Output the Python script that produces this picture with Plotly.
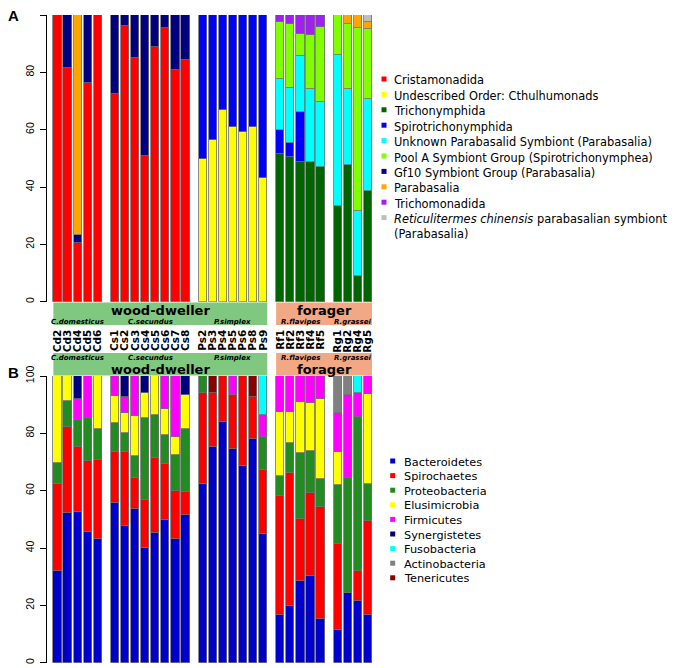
import plotly.graph_objects as go

# the page body adds an 8px margin, so the figure is drawn 8px in from the window edge
OFF = 8
WIN_W, WIN_H = 675, 668
W, H = WIN_W - OFF, WIN_H - OFF

# ---------------- data ----------------
samples = ["Cd2", "Cd3", "Cd4", "Cd5", "Cd6",
           "Cs1", "Cs2", "Cs3", "Cs4", "Cs5", "Cs6", "Cs7", "Cs8",
           "Ps2", "Ps3", "Ps4", "Ps5", "Ps6", "Ps8", "Ps9",
           "Rf1", "Rf2", "Rf3", "Rf4", "Rf5",
           "Rg1", "Rg2", "Rg4", "Rg5"]
species = ["C.domesticus", "C.secundus", "P.simplex", "R.flavipes", "R.grassei"]
species_sizes = [5, 8, 7, 5, 4]
lifestyles = ["wood-dweller", "forager"]
lifestyle_species = [[0, 1, 2], [3, 4]]

# Panel A: protist orders (percent)
protist_names = ["Cristamonadida", "Undescribed Order: Cthulhumonads", "Trichonymphida",
                 "Spirotrichonymphida", "Unknown Parabasalid Symbiont (Parabasalia)",
                 "Pool A Symbiont Group (Spirotrichonymphea)", "Gf10 Symbiont Group (Parabasalia)",
                 "Parabasalia", "Trichomonadida",
                 "<i>Reticulitermes chinensis</i> parabasalian symbiont<br>(Parabasalia)"]
protist_colors = ["#FF0000", "#FFFF00", "#006400", "#0000FF", "#00FFFF",
                  "#7FFF00", "#000080", "#FFA500", "#A020F0", "#BEBEBE"]
Z5, Z7, Z4 = [0]*5, [0]*7, [0]*4
cristamonadida = [100, 81.4, 20.6, 76.2, 100, 72.3, 96.3, 84.9, 50.8, 89.0, 95.3, 80.8, 84.3] + Z7 + Z5 + Z4
cthulhumonads = [0]*13 + [49.7, 56.4, 66.9, 60.8, 59.3, 60.8, 43.3] + Z5 + Z4
trichonymphida = [0]*13 + Z7 + [51.5, 50.6, 48.8, 48.8, 47.1] + [33.4, 47.6, 9.0, 38.7]
spirotrichonymphida = [0]*13 + [50.3, 43.6, 33.1, 39.2, 40.7, 39.2, 56.7] + [8.4, 4.6, 17.2, 0, 0] + Z4
unknown_parabasalid = [0]*13 + Z7 + [17.7, 19.5, 19.7, 25.5, 22.4] + [52.6, 26.5, 22.5, 31.9]
pool_a = [0]*13 + Z7 + [20.1, 22.0, 7.7, 18.7, 26.2] + [14.0, 22.6, 64.1, 24.5]
gf10 = [0, 18.6, 2.5, 23.8, 0, 27.7, 3.7, 15.1, 49.2, 11.0, 4.7, 19.2, 15.7] + Z7 + Z5 + Z4
parabasalia = [0, 0, 76.9, 0, 0] + [0]*8 + Z7 + Z5 + [0, 3.3, 4.4, 2.3]
trichomonadida = [0]*13 + Z7 + [2.3, 3.3, 6.6, 7.0, 4.3] + Z4
r_chinensis = [0]*13 + Z7 + Z5 + [0, 0, 0, 2.6]
protist_values = [cristamonadida, cthulhumonads, trichonymphida, spirotrichonymphida,
                  unknown_parabasalid, pool_a, gf10, parabasalia, trichomonadida, r_chinensis]

# Panel B: bacterial phyla (percent)
phylum_names = ["Bacteroidetes", "Spirochaetes", "Proteobacteria", "Elusimicrobia", "Firmicutes",
                "Synergistetes", "Fusobacteria", "Actinobacteria", "Tenericutes"]
phylum_colors = ["#0000CD", "#FF0000", "#228B22", "#FFFF00", "#FF00FF",
                 "#000080", "#00FFFF", "#808080", "#8B0000"]
bacteroidetes = [32.0, 52.3, 52.7, 45.7, 43.3, 55.8, 47.8, 53.6, 40.1, 45.1, 49.8, 43.3, 51.5,
                 62.3, 75.1, 83.8, 74.7, 68.7, 78.0, 44.9, 16.6, 19.8, 28.6, 30.2, 15.2,
                 11.4, 24.4, 21.5, 16.6]
spirochaetes = [30.3, 29.8, 22.6, 24.6, 27.4, 17.6, 25.6, 10.7, 16.6, 26.2, 19.4, 16.7, 8.2,
                31.7, 18.9, 16.2, 18.7, 31.3, 14.8, 22.2, 41.5, 46.2, 21.5, 28.9, 39.2,
                29.9, 0, 10.6, 32.8]
proteobacteria = [7.4, 9.2, 9.4, 14.9, 10.7, 10.1, 6.8, 7.8, 28.8, 15.1, 10.2, 12.4, 21.7,
                  6.0, 0, 0, 0, 0, 0, 11.7, 7.1, 10.5, 22.9, 14.7, 9.8,
                  20.7, 39.9, 53.7, 12.8]
elusimicrobia = [30.3, 8.7, 0, 0, 18.6, 9.6, 7.0, 14.1, 8.5, 13.6, 9.0, 6.2, 11.9,
                 0, 0, 0, 0, 0, 0, 0, 22.4, 10.8, 18.0, 16.9, 27.7,
                 11.4, 0, 0, 31.4]
firmicutes = [0, 0, 7.2, 14.8, 0, 6.9, 5.6, 13.8, 0, 0, 11.6, 21.4, 0,
              0, 0, 0, 6.6, 0, 0, 7.5, 12.4, 12.7, 9.0, 9.3, 8.1,
              13.8, 29.1, 8.2, 6.4]
synergistetes = [0, 0, 8.1, 0, 0, 0, 7.2, 0, 6.0, 0, 0, 0, 6.7] + Z7 + Z5 + Z4
fusobacteria = [0]*13 + [0, 0, 0, 0, 0, 0, 13.7] + Z5 + [0, 0, 6.0, 0]
actinobacteria = [0]*13 + Z7 + Z5 + [12.8, 6.6, 0, 0]
tenericutes = [0]*13 + [0, 6.0, 0, 0, 0, 7.2, 0] + Z5 + Z4
phylum_values = [bacteroidetes, spirochaetes, proteobacteria, elusimicrobia, firmicutes,
                 synergistetes, fusobacteria, actinobacteria, tenericutes]

y_ticks = [0, 20, 40, 60, 80, 100]

# ---------------- layout helpers (window pixels -> paper) ----------------
def px_x(p):
    return (p - OFF) / W

def px_y(p):
    return 1 - (p - OFF) / H

GAP = 0.7
BAR_W = 0.82
xpos = []
group_bounds = []
cur = 0.0
for gi, n in enumerate(species_sizes):
    if gi > 0:
        cur += GAP
    start = cur
    for _ in range(n):
        xpos.append(cur)
        cur += 1
    group_bounds.append((start, cur - 1))
XRANGE = [-1.04, 31.2]

fig = go.Figure()

def nz(vals):
    return [v if v > 0 else None for v in vals]

for name, col, vals in zip(protist_names, protist_colors, protist_values):
    fig.add_trace(go.Bar(x=xpos, y=nz(vals), name=name, marker_color=col,
                         marker_line=dict(color="#707070", width=0.8), width=BAR_W,
                         xaxis="x", yaxis="y", showlegend=False, hoverinfo="skip"))
for name, col, vals in zip(phylum_names, phylum_colors, phylum_values):
    fig.add_trace(go.Bar(x=xpos, y=nz(vals), name=name, marker_color=col,
                         marker_line=dict(color="#707070", width=0.8), width=BAR_W,
                         xaxis="x2", yaxis="y2", showlegend=False, hoverinfo="skip"))

dom_x = [px_x(47), px_x(372)]
yA = [px_y(301.7), px_y(15)]
yB = [px_y(662.7), px_y(376)]

axis_y_common = dict(range=[0, 100], tickvals=y_ticks, ticks="outside", ticklen=6,
                     tickwidth=1, tickcolor="black", showline=True, linecolor="black",
                     linewidth=1, showgrid=False, zeroline=False, tickangle=-90,
                     ticklabelstandoff=2, automargin=False,
                     tickfont=dict(family="Liberation Sans", size=10.5, color="black"))

fig.update_layout(
    width=W, height=H, margin=dict(l=0, r=0, t=0, b=0, autoexpand=False),
    paper_bgcolor="white", plot_bgcolor="rgba(0,0,0,0)",
    barmode="stack", bargap=0,
    xaxis=dict(domain=dom_x, range=XRANGE, tickvals=xpos, ticktext=samples,
               tickangle=-90, ticks="", showline=False, showgrid=False, zeroline=False,
               ticklabelstandoff=25, automargin=False,
               tickfont=dict(family="DejaVu Sans", size=10.5, color="black", weight="bold")),
    yaxis=dict(domain=yA, anchor="x", **axis_y_common),
    xaxis2=dict(domain=dom_x, range=XRANGE, showticklabels=False, ticks="", showline=False,
                showgrid=False, zeroline=False, anchor="y2", automargin=False),
    yaxis2=dict(domain=yB, anchor="x2", **axis_y_common),
)

shapes = []
annotations = []

strip_colors = ["#80C880", "#F2A884"]
# strips: (top_px, bottom_px, lifestyle_text_y, species_text_y)
strips = [(302.5, 325, 310.5, 322), (353, 375.5, 369, 357.5)]
for (top, bot, ly, sy) in strips:
    for li, sp_idx in enumerate(lifestyle_species):
        x0 = group_bounds[sp_idx[0]][0] - BAR_W / 2
        x1 = group_bounds[sp_idx[-1]][1] + BAR_W / 2
        shapes.append(dict(type="rect", xref="x", yref="paper", x0=x0, x1=x1,
                           y0=px_y(bot), y1=px_y(top), fillcolor=strip_colors[li],
                           line=dict(width=0), layer="below"))
        annotations.append(dict(x=(x0 + x1) / 2, y=px_y(ly), xref="x", yref="paper",
                                text="<b>%s</b>" % lifestyles[li], showarrow=False,
                                font=dict(family="DejaVu Sans", size=13, color="black"),
                                xanchor="center", yanchor="middle"))
        for si in sp_idx:
            c = (group_bounds[si][0] + group_bounds[si][1]) / 2
            annotations.append(dict(x=c, y=px_y(sy), xref="x", yref="paper",
                                    text="<b><i>%s</i></b>" % species[si], showarrow=False,
                                    font=dict(family="DejaVu Sans", size=7, color="black"),
                                    xanchor="center", yanchor="middle"))

# panel letters
for letter, (lx, ly) in zip(["A", "B"], [(13, 16), (14, 372)]):
    annotations.append(dict(x=px_x(lx), y=px_y(ly), xref="paper", yref="paper",
                            text="<b>%s</b>" % letter, showarrow=False,
                            font=dict(family="Liberation Sans", size=15, color="black"),
                            xanchor="center", yanchor="middle"))

# legends (drawn as key squares + labels)
def legend(names, colors, sq_x, txt_x, y0, dy, fsize, sq=5):
    y = y0
    for name, col in zip(names, colors):
        shapes.append(dict(type="rect", xref="paper", yref="paper",
                           x0=px_x(sq_x - sq / 2), x1=px_x(sq_x + sq / 2),
                           y0=px_y(y + sq / 2), y1=px_y(y - sq / 2),
                           fillcolor=col, line=dict(width=0)))
        nlines = name.count("<br>") + 1
        annotations.append(dict(x=px_x(txt_x), y=px_y(y - 7.5), xref="paper", yref="paper",
                                text=name, showarrow=False, align="left",
                                font=dict(family="DejaVu Sans", size=fsize, color="black"),
                                xanchor="left", yanchor="top"))
        y += dy * nlines

legend(protist_names, protist_colors, 384, 392, 79, 15.4, 11.4)
legend(phylum_names, phylum_colors, 392.7, 401.5, 461, 14.6, 11.3)

fig.update_layout(shapes=shapes, annotations=annotations)
fig.write_html("out.html")
